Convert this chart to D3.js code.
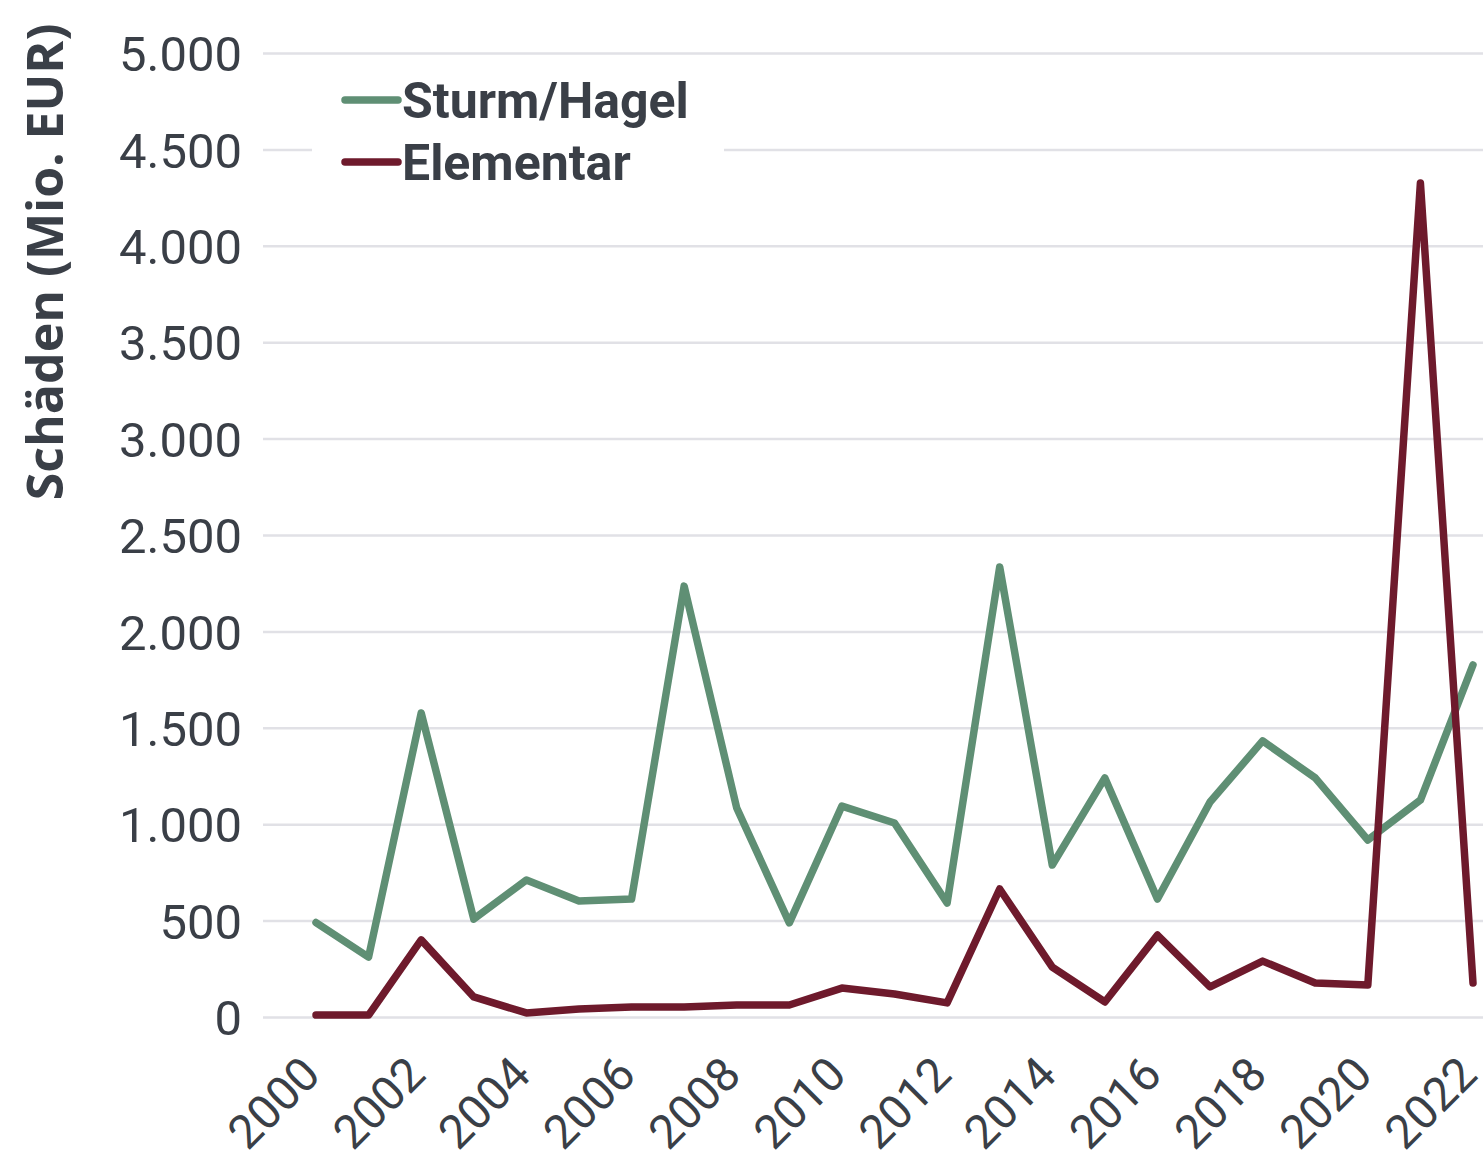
<!DOCTYPE html>
<html><head><meta charset="utf-8">
<script src="https://cdn.jsdelivr.net/npm/d3@7"></script>
<style>body{margin:0;background:#fff}svg{display:block}</style>
</head><body>
<svg id="c" width="1483" height="1162"></svg>
<script>
const years = d3.range(2000, 2023);
const sturmHagel = [490, 311, 1577, 508, 711, 602, 612, 2235, 1084, 488, 1094, 1006, 591, 2334, 788, 1240, 612, 1115, 1432, 1240, 918, 1125, 1826];
const elementar = [10, 10, 400, 104, 21, 41, 52, 52, 62, 62, 150, 119, 73, 664, 259, 78, 425, 156, 290, 176, 166, 4326, 176];
const yTicks = [0, 500, 1000, 1500, 2000, 2500, 3000, 3500, 4000, 4500, 5000];
const xTicks = [2000, 2002, 2004, 2006, 2008, 2010, 2012, 2014, 2016, 2018, 2020, 2022];
const seriesNames = ["Sturm/Hagel", "Elementar"];
const seriesColors = ["#5f8f74", "#6e1a2c"];

const svg = d3.select("#c");
const x = d3.scaleLinear().domain([2000, 2022]).range([316, 1473]);
const y = d3.scaleLinear().domain([0, 5000]).range([1017, 53]);
const txt = "#3a3f47";
const font = "Roboto, 'Noto Sans', sans-serif";

// gridlines + y labels
const yAxis = d3.axisLeft(y).tickValues(yTicks).tickSize(-(1483 - 263)).tickFormat(d => d3.format(",")(d).replace(/,/g, "."));
const gy = svg.append("g").attr("transform", "translate(263,0)").call(yAxis);
gy.select(".domain").remove();
gy.selectAll(".tick line").attr("stroke", "#e1e1e6").attr("stroke-width", 2.5);
gy.selectAll(".tick text").attr("x", -21).attr("dy", "0.36em").attr("fill", txt)
  .style("font-family", font).style("font-size", "49px").style("font-weight", 400);

// x labels
const xAxis = d3.axisBottom(x).tickValues(xTicks).tickSize(0).tickFormat(d3.format("d"));
const gx = svg.append("g").attr("transform", "translate(0,1017)").call(xAxis);
gx.select(".domain").remove();
gx.selectAll(".tick text").attr("fill", txt).style("font-family", font).style("font-size", "47px").style("font-weight", 400)
  .attr("text-anchor", "end").attr("dy", 0).attr("y", 0)
  .attr("transform", "translate(6,60) rotate(-45)");

// legend background
svg.append("rect").attr("x", 312).attr("y", 70).attr("width", 412).attr("height", 122).attr("fill", "#fff");

// lines
const line = d3.line().x((d, i) => x(years[i])).y(d => y(d));
[sturmHagel, elementar].forEach((s, k) => {
  svg.append("path").datum(s).attr("d", line).attr("fill", "none")
    .attr("stroke", seriesColors[k]).attr("stroke-width", 7.5)
    .attr("stroke-linejoin", "round").attr("stroke-linecap", "round");
});

// legend
seriesNames.forEach((n, k) => {
  const yy = 100 + k * 62;
  svg.append("line").attr("x1", 345).attr("x2", 398).attr("y1", yy).attr("y2", yy)
    .attr("stroke", seriesColors[k]).attr("stroke-width", 7.5).attr("stroke-linecap", "round");
  svg.append("text").attr("x", 402).attr("y", yy).attr("dy", "0.36em").attr("fill", txt)
    .style("font-family", "Roboto, sans-serif").style("font-size", "50px").style("font-weight", 700)
    .text(n);
});

// y title
svg.append("text").attr("transform", "translate(63,262) rotate(-90)").attr("text-anchor", "middle")
  .attr("fill", txt).style("font-family", "'Open Sans', sans-serif").style("font-size", "50px").style("font-weight", 700)
  .text("Schäden (Mio. EUR)");
</script>
</body></html>
